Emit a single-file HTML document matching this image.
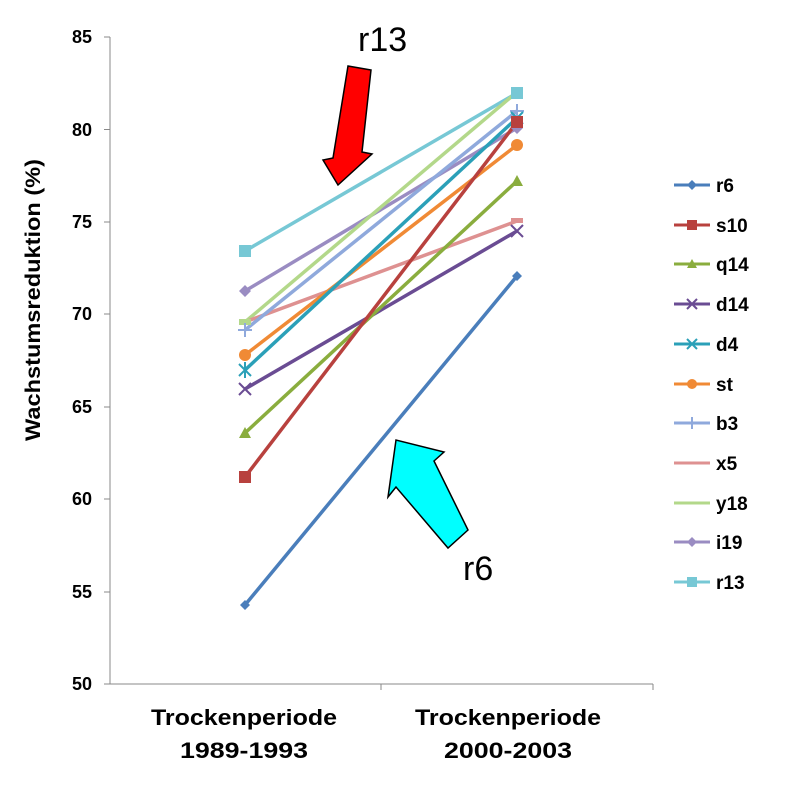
<!DOCTYPE html>
<html><head><meta charset="utf-8"><style>body{margin:0;background:#fff}svg{display:block;font-family:"Liberation Sans",Arial,sans-serif}</style></head>
<body>
<svg width="791" height="786" viewBox="0 0 791 786">
<rect width="791" height="786" fill="#fff"/>
<line x1="110" y1="37" x2="110" y2="684" stroke="#888" stroke-width="1"/>
<line x1="110" y1="684" x2="653" y2="684" stroke="#888" stroke-width="1"/>
<g stroke="#888">
<line x1="104" y1="37" x2="110" y2="37"/><line x1="104" y1="129.5" x2="110" y2="129.5"/><line x1="104" y1="222" x2="110" y2="222"/><line x1="104" y1="314" x2="110" y2="314"/><line x1="104" y1="407" x2="110" y2="407"/><line x1="104" y1="499" x2="110" y2="499"/><line x1="104" y1="592" x2="110" y2="592"/><line x1="104" y1="684" x2="110" y2="684"/>
<line x1="381" y1="684" x2="381" y2="690"/><line x1="653" y1="684" x2="653" y2="690"/>
</g>
<g font-size="18" font-weight="bold" text-anchor="end" fill="#000">
<text x="92" y="43">85</text><text x="92" y="136">80</text><text x="92" y="228">75</text><text x="92" y="320">70</text><text x="92" y="413">65</text><text x="92" y="505">60</text><text x="92" y="598">55</text><text x="92" y="690">50</text>
</g>
<text transform="translate(40,300) rotate(-90)" font-size="21" font-weight="bold" text-anchor="middle" textLength="282" lengthAdjust="spacingAndGlyphs">Wachstumsreduktion (%)</text>
<g font-size="22" font-weight="bold" text-anchor="middle">
<text x="244" y="725" textLength="186" lengthAdjust="spacingAndGlyphs">Trockenperiode</text><text x="244" y="758" textLength="128" lengthAdjust="spacingAndGlyphs">1989-1993</text>
<text x="508" y="725" textLength="186" lengthAdjust="spacingAndGlyphs">Trockenperiode</text><text x="508" y="758" textLength="128" lengthAdjust="spacingAndGlyphs">2000-2003</text>
</g>
<g stroke-width="3.5" fill="none">
<line x1="245" y1="251" x2="517" y2="93" stroke="#77c8d5"/>
<line x1="245" y1="291" x2="517" y2="128" stroke="#9a8cc2"/>
<line x1="245" y1="322" x2="517" y2="92" stroke="#b3d88a"/>
<line x1="245" y1="322" x2="517" y2="221" stroke="#de9191"/>
<line x1="245" y1="330" x2="517" y2="111" stroke="#8fa9dc"/>
<line x1="245" y1="355" x2="517" y2="145" stroke="#f08a35"/>
<line x1="245" y1="370" x2="517" y2="118" stroke="#2ba0b8"/>
<line x1="245" y1="389" x2="517" y2="231" stroke="#6a4c93"/>
<line x1="245" y1="433" x2="517" y2="181" stroke="#8aad3e"/>
<line x1="245" y1="477" x2="517" y2="122" stroke="#b8413e"/>
<line x1="245" y1="605" x2="517" y2="276" stroke="#4a7ebb"/>
</g>
<rect x="239" y="245" width="12" height="12" fill="#77c8d5"/><rect x="511" y="87" width="12" height="12" fill="#77c8d5"/>
<path d="M245 285l6 6-6 6-6-6z M517 122l6 6-6 6-6-6z" fill="#9a8cc2"/>
<rect x="239" y="319" width="12" height="6" fill="#b3d88a"/>
<rect x="511" y="218" width="12" height="5" fill="#de9191"/>
<path d="M238 330h14M245 323v14M510 111h14M517 104v14" stroke="#8fa9dc" stroke-width="2"/>
<circle cx="245" cy="355" r="6" fill="#f08a35"/><circle cx="517" cy="145" r="6" fill="#f08a35"/>
<path d="M239 364l12 12M251 364l-12 12M245 362v16M511 112l12 12M523 112l-12 12" stroke="#2ba0b8" stroke-width="2"/>
<path d="M239 383l12 12M251 383l-12 12M511 225l12 12M523 225l-12 12" stroke="#6a4c93" stroke-width="2"/>
<path d="M245 427l6 11h-12z M517 175l6 11h-12z" fill="#8aad3e"/>
<rect x="239" y="471" width="12" height="12" fill="#b8413e"/><rect x="511" y="116" width="12" height="12" fill="#b8413e"/>
<path d="M245 600l5 5-5 5-5-5z M517 271l5 5-5 5-5-5z" fill="#4a7ebb"/>
<polygon points="348,66 371,70 362,152 372,154 338,185 323,160 333,158" fill="#ff0000" stroke="#000" stroke-width="1.5"/>
<polygon points="468,530 448,548 396,487 388,497 396,440 444,452 434,461" fill="#00ffff" stroke="#000" stroke-width="1.5"/>
<text x="358" y="51" font-size="34">r13</text>
<text x="463" y="580" font-size="34">r6</text>
<g font-size="19" font-weight="bold">
<g stroke-width="3"><line x1="674" y1="185" x2="710" y2="185" stroke="#4a7ebb"/><line x1="674" y1="225" x2="710" y2="225" stroke="#b8413e"/><line x1="674" y1="264" x2="710" y2="264" stroke="#8aad3e"/><line x1="674" y1="304" x2="710" y2="304" stroke="#6a4c93"/><line x1="674" y1="344" x2="710" y2="344" stroke="#2ba0b8"/><line x1="674" y1="384" x2="710" y2="384" stroke="#f08a35"/><line x1="674" y1="423" x2="710" y2="423" stroke="#8fa9dc"/><line x1="674" y1="463" x2="710" y2="463" stroke="#de9191"/><line x1="674" y1="503" x2="710" y2="503" stroke="#b3d88a"/><line x1="674" y1="542" x2="710" y2="542" stroke="#9a8cc2"/><line x1="674" y1="582" x2="710" y2="582" stroke="#77c8d5"/></g>
<path d="M692 180l5 5-5 5-5-5z" fill="#4a7ebb"/><rect x="687" y="220" width="10" height="10" fill="#b8413e"/><path d="M692 259l5 9h-10z" fill="#8aad3e"/><path d="M687 299l10 10M697 299l-10 10" stroke="#6a4c93" stroke-width="2"/><path d="M687 339l10 10M697 339l-10 10" stroke="#2ba0b8" stroke-width="2"/><circle cx="692" cy="384" r="5" fill="#f08a35"/><path d="M686 423h12M692 417v12" stroke="#8fa9dc" stroke-width="2"/><path d="M692 537l5 5-5 5-5-5z" fill="#9a8cc2"/><rect x="687" y="577" width="10" height="10" fill="#77c8d5"/>
<text x="716" y="192">r6</text><text x="716" y="232">s10</text><text x="716" y="271">q14</text><text x="716" y="311">d14</text><text x="716" y="351">d4</text><text x="716" y="391">st</text><text x="716" y="430">b3</text><text x="716" y="470">x5</text><text x="716" y="510">y18</text><text x="716" y="549">i19</text><text x="716" y="589">r13</text>
</g>
</svg>
</body></html>
